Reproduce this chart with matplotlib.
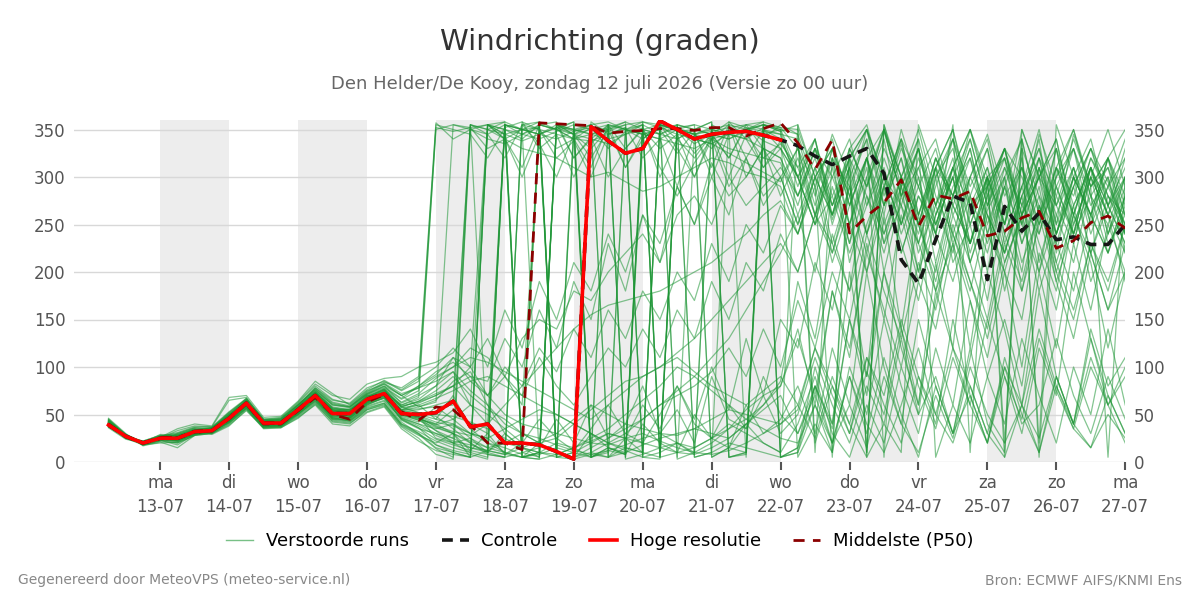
import numpy as np
import pandas as pd
import matplotlib
matplotlib.use("Agg")
import matplotlib.pyplot as plt

# 6-hourly steps, 12-07 06:00 .. 27-07 00:00
times = pd.date_range("2026-07-12 06:00", "2026-07-27 00:00", freq="6h")

# hoge resolutie (tot 22-07 00:00)
hires = [39, 27, 20, 25, 25, 32, 33, 46, 62, 41, 41, 55, 70, 51, 51, 66, 72, 51, 50, 52,
         64, 37, 40, 20, 20, 18, 11, 3, 353, 338, 325, 330, 359, 350, 340, 345, 347, 348, 344, 339]

control = [39, 27, 20, 25, 25, 32, 33, 46, 62, 41, 41, 55, 70, 51, 51, 66, 72, 51, 50, 52,
           64, 37, 40, 20, 20, 18, 11, 3, 353, 338, 325, 330, 359, 350, 340, 345, 347, 348, 344, 339,
           333, 322, 313, 322, 330, 304, 213, 188, 234, 280, 273, 192, 269, 243, 262, 234, 237, 229, 229, 250]

median = [40, 27, 20, 26, 26, 31, 33, 47, 61, 40, 40, 54, 68, 50, 45, 63, 71, 53, 44, 58,
          55, 39, 20, 20, 13, 357, 356, 355, 354, 346, 348, 349, 351, 351, 349, 352, 352, 343, 351, 357,
          336, 308, 339, 241, 259, 273, 297, 248, 281, 277, 285, 238, 243, 257, 264, 225, 233, 252, 259, 246]

# verstoorde runs (ensemble members)
run_01 = [41, 28, 19, 24, 27, 31, 35, 48, 60, 40, 42, 57, 72, 55, 48, 62, 75, 55, 60, 45,
          70, 35, 20, 15, 8, 355, 350, 340, 352, 330, 348, 355, 5, 350, 335, 345, 320, 352, 338, 330,
          300, 330, 270, 310, 240, 290, 220, 280, 250, 300, 210, 265, 300, 230, 280, 190, 250, 300, 230, 260]
run_02 = [38, 26, 21, 27, 22, 34, 31, 44, 64, 39, 38, 52, 68, 49, 53, 70, 70, 48, 42, 58,
          45, 30, 25, 10, 5, 8, 15, 10, 20, 30, 25, 60, 35, 80, 45, 100, 55, 130, 70, 150,
          120, 210, 160, 250, 200, 290, 230, 170, 260, 300, 220, 280, 180, 260, 300, 210, 270, 190, 240, 280]
run_03 = [44, 29, 18, 22, 30, 36, 34, 50, 58, 43, 45, 60, 75, 60, 57, 72, 80, 62, 70, 80,
          110, 100, 70, 90, 60, 350, 320, 338, 300, 345, 352, 320, 340, 290, 345, 310, 355, 300, 330, 280,
          320, 260, 300, 340, 270, 330, 290, 240, 310, 280, 330, 250, 300, 340, 260, 310, 280, 330, 295, 250]
run_04 = [40, 25, 20, 26, 24, 30, 32, 42, 63, 37, 40, 50, 66, 46, 45, 60, 68, 44, 35, 30,
          25, 15, 10, 355, 350, 352, 5, 10, 358, 345, 352, 8, 15, 20, 10, 350, 345, 340, 352, 5,
          15, 80, 40, 150, 90, 200, 140, 260, 180, 230, 120, 240, 200, 100, 220, 160, 260, 210, 120, 200]
run_05 = [37, 27, 22, 28, 26, 33, 36, 52, 66, 44, 43, 58, 78, 65, 62, 78, 85, 75, 85, 355,
          350, 345, 320, 352, 358, 330, 345, 300, 335, 355, 310, 345, 350, 325, 348, 300, 345, 350, 310, 338,
          300, 340, 260, 320, 350, 280, 335, 250, 310, 350, 270, 290, 330, 250, 320, 280, 340, 290, 310, 260]
run_06 = [42, 26, 19, 23, 18, 29, 30, 40, 56, 36, 37, 48, 62, 42, 40, 55, 60, 38, 28, 20,
          30, 12, 8, 5, 10, 15, 45, 20, 60, 25, 40, 80, 30, 55, 20, 90, 45, 35, 70, 30,
          50, 110, 60, 20, 80, 40, 130, 50, 90, 30, 70, 20, 100, 40, 60, 130, 70, 30, 90, 45]
run_07 = [39, 28, 21, 25, 33, 38, 37, 65, 68, 45, 47, 63, 82, 70, 66, 82, 88, 90, 100, 105,
          115, 140, 100, 160, 120, 190, 150, 210, 180, 240, 200, 260, 230, 290, 250, 300, 260, 320, 280, 300,
          250, 310, 270, 330, 290, 350, 300, 260, 320, 280, 340, 270, 310, 250, 300, 330, 270, 310, 260, 300]
run_08 = [46, 30, 17, 21, 15, 28, 33, 45, 61, 40, 39, 54, 71, 52, 50, 64, 72, 50, 45, 40,
          55, 40, 30, 355, 350, 345, 352, 358, 10, 5, 350, 345, 340, 350, 355, 5, 15, 10, 355, 350,
          345, 290, 5, 320, 10, 350, 280, 330, 240, 355, 10, 300, 20, 340, 260, 300, 330, 250, 320, 350]
run_09 = [36, 24, 20, 29, 28, 35, 29, 38, 55, 35, 36, 47, 60, 40, 38, 52, 58, 35, 22, 12,
          8, 5, 12, 20, 15, 10, 5, 3, 8, 12, 18, 25, 30, 20, 15, 25, 35, 45, 60, 80,
          140, 60, 180, 110, 230, 150, 260, 190, 300, 210, 250, 170, 270, 200, 310, 230, 180, 260, 300, 220]
run_10 = [43, 27, 19, 24, 25, 31, 34, 47, 65, 42, 44, 59, 74, 58, 55, 70, 78, 66, 75, 350,
          355, 352, 330, 340, 310, 355, 358, 320, 342, 300, 330, 350, 310, 280, 315, 340, 290, 320, 270, 300,
          250, 300, 220, 280, 320, 240, 290, 200, 260, 310, 230, 280, 330, 250, 200, 290, 240, 310, 260, 220]
run_11 = [40, 26, 22, 26, 35, 40, 38, 68, 70, 47, 48, 64, 85, 72, 60, 75, 82, 70, 58, 65,
          85, 95, 60, 30, 15, 355, 350, 358, 5, 15, 8, 350, 345, 355, 5, 10, 20, 15, 10, 5,
          10, 60, 20, 90, 30, 110, 50, 5, 80, 30, 120, 40, 10, 350, 300, 340, 260, 320, 290, 340]
run_12 = [38, 27, 18, 20, 21, 30, 31, 43, 59, 38, 40, 53, 69, 50, 49, 63, 70, 52, 48, 25,
          20, 25, 10, 5, 358, 350, 330, 340, 310, 355, 330, 352, 300, 340, 320, 345, 300, 345, 320, 335,
          310, 260, 330, 280, 350, 300, 250, 320, 270, 340, 290, 330, 250, 350, 300, 270, 330, 280, 310, 240]
run_13 = [45, 29, 20, 25, 27, 32, 36, 49, 62, 41, 42, 56, 73, 56, 54, 67, 76, 58, 64, 75,
          90, 70, 55, 45, 30, 20, 10, 5, 15, 25, 35, 45, 60, 70, 80, 95, 120, 90, 140, 100,
          170, 120, 200, 150, 240, 180, 130, 210, 160, 250, 190, 140, 230, 180, 270, 200, 150, 230, 190, 250]
run_14 = [39, 25, 21, 27, 24, 33, 33, 41, 57, 39, 38, 51, 64, 45, 44, 58, 64, 42, 30, 15,
          10, 5, 350, 345, 5, 10, 355, 350, 5, 15, 10, 358, 355, 350, 345, 352, 5, 10, 355, 348,
          300, 250, 320, 210, 280, 240, 300, 220, 270, 320, 230, 290, 210, 260, 320, 240, 300, 260, 220, 280]
run_15 = [41, 28, 19, 24, 26, 34, 35, 50, 67, 43, 45, 60, 76, 61, 58, 74, 84, 78, 90, 357,
          340, 350, 355, 345, 338, 345, 352, 350, 355, 358, 350, 345, 340, 335, 330, 340, 345, 340, 330, 320,
          280, 330, 250, 310, 350, 270, 330, 290, 240, 310, 350, 280, 330, 260, 300, 340, 250, 300, 350, 290]
run_16 = [37, 26, 20, 23, 23, 29, 32, 44, 60, 37, 39, 52, 67, 48, 47, 61, 69, 47, 40, 35,
          40, 25, 15, 20, 30, 25, 18, 12, 8, 5, 10, 18, 25, 30, 35, 30, 25, 40, 55, 70,
          30, 80, 20, 60, 15, 90, 40, 10, 70, 25, 100, 50, 20, 60, 10, 80, 35, 15, 50, 25]
run_17 = [44, 27, 21, 26, 29, 35, 34, 46, 64, 42, 42, 57, 71, 54, 52, 66, 73, 55, 62, 70,
          80, 60, 40, 355, 350, 345, 5, 355, 350, 348, 355, 5, 10, 355, 350, 345, 340, 348, 355, 350,
          5, 40, 10, 330, 355, 290, 340, 260, 320, 280, 350, 300, 5, 330, 20, 355, 300, 260, 320, 280]
run_18 = [40, 28, 19, 25, 24, 31, 36, 51, 63, 40, 41, 54, 70, 53, 56, 71, 79, 67, 80, 95,
          105, 90, 85, 130, 100, 160, 120, 190, 150, 230, 180, 260, 210, 290, 250, 315, 280, 300, 330, 320,
          270, 330, 280, 320, 240, 300, 270, 330, 260, 310, 350, 290, 320, 260, 300, 240, 290, 330, 270, 310]
run_19 = [38, 26, 20, 24, 22, 30, 31, 42, 58, 38, 37, 50, 65, 47, 43, 57, 62, 40, 32, 22,
          15, 10, 5, 355, 5, 10, 20, 15, 25, 35, 50, 65, 80, 100, 90, 75, 60, 45, 35, 25,
          20, 60, 10, 100, 50, 150, 80, 30, 120, 60, 170, 90, 40, 130, 70, 20, 100, 50, 140, 60]
run_20 = [42, 27, 18, 22, 20, 28, 30, 39, 54, 36, 36, 46, 61, 43, 41, 53, 59, 37, 25, 8,
          3, 350, 340, 335, 345, 352, 5, 350, 345, 350, 358, 5, 3, 352, 345, 340, 330, 325, 320, 315,
          260, 310, 230, 290, 200, 270, 320, 250, 200, 280, 230, 300, 250, 320, 210, 280, 240, 310, 270, 230]
run_21 = [43, 29, 21, 27, 31, 37, 37, 53, 67, 45, 44, 60, 78, 63, 59, 73, 83, 72, 78, 85,
          95, 75, 60, 40, 30, 20, 25, 40, 55, 70, 85, 90, 100, 110, 95, 80, 70, 60, 75, 90,
          60, 120, 80, 40, 110, 70, 150, 90, 50, 120, 80, 30, 100, 60, 140, 80, 40, 110, 60, 90]
run_22 = [39, 26, 20, 25, 26, 33, 33, 47, 61, 41, 40, 55, 69, 52, 50, 65, 71, 53, 55, 60,
          65, 355, 350, 340, 330, 325, 320, 310, 300, 305, 295, 285, 290, 300, 310, 320, 315, 305, 300, 290,
          240, 290, 210, 270, 320, 230, 300, 250, 190, 270, 320, 240, 290, 210, 260, 330, 240, 280, 220, 270]
run_23 = [40, 27, 22, 28, 28, 32, 35, 49, 65, 43, 43, 58, 74, 57, 53, 69, 76, 58, 52, 48,
          35, 20, 8, 5, 355, 358, 8, 15, 5, 355, 350, 358, 10, 20, 8, 355, 345, 350, 358, 5,
          15, 100, 40, 200, 90, 260, 140, 60, 210, 120, 280, 200, 300, 180, 250, 330, 230, 300, 260, 190]
run_24 = [37, 25, 19, 24, 23, 31, 32, 45, 59, 39, 38, 53, 67, 49, 46, 62, 67, 46, 38, 28,
          20, 15, 12, 8, 5, 3, 8, 15, 22, 30, 25, 20, 15, 10, 8, 15, 25, 40, 60, 85,
          190, 130, 240, 180, 300, 230, 270, 200, 310, 240, 180, 260, 220, 290, 230, 180, 270, 310, 240, 290]
run_25 = [45, 28, 20, 26, 25, 34, 34, 48, 62, 42, 41, 56, 72, 55, 51, 66, 74, 60, 68, 352,
          348, 352, 355, 358, 350, 345, 340, 348, 352, 350, 355, 358, 352, 345, 340, 335, 325, 315, 305, 295,
          330, 260, 310, 230, 290, 340, 250, 300, 210, 280, 330, 240, 310, 270, 340, 220, 300, 260, 320, 240]
run_26 = [41, 27, 21, 25, 27, 30, 33, 44, 60, 40, 40, 54, 70, 50, 48, 63, 70, 50, 44, 36,
          30, 22, 15, 10, 355, 350, 345, 340, 338, 345, 350, 355, 5, 10, 15, 25, 40, 30, 20, 10,
          355, 300, 330, 250, 310, 200, 280, 230, 180, 260, 210, 150, 240, 190, 270, 210, 160, 230, 180, 250]
run_27 = [38, 28, 18, 23, 24, 32, 31, 46, 63, 42, 42, 57, 73, 56, 55, 68, 77, 63, 72, 88,
          100, 110, 105, 95, 85, 75, 65, 55, 45, 60, 75, 90, 100, 115, 130, 150, 170, 190, 210, 230,
          200, 260, 220, 290, 240, 320, 270, 230, 300, 340, 270, 310, 250, 330, 280, 240, 310, 260, 220, 280]
run_28 = [42, 26, 20, 25, 22, 29, 32, 43, 57, 37, 39, 51, 66, 46, 44, 59, 65, 45, 36, 18,
          10, 5, 355, 350, 345, 355, 5, 10, 5, 355, 350, 345, 350, 355, 5, 10, 358, 352, 348, 345,
          340, 280, 345, 300, 5, 40, 10, 355, 300, 330, 250, 300, 220, 280, 320, 250, 345, 290, 5, 300]
run_29 = [39, 27, 21, 26, 28, 33, 35, 48, 64, 41, 43, 56, 71, 54, 53, 67, 75, 57, 60, 67,
          75, 85, 90, 80, 70, 60, 50, 40, 30, 20, 15, 10, 5, 355, 350, 345, 340, 350, 355, 5,
          10, 80, 35, 150, 70, 200, 120, 60, 170, 240, 190, 130, 210, 260, 180, 240, 300, 220, 160, 230]
run_30 = [40, 26, 19, 24, 26, 31, 33, 46, 61, 40, 40, 55, 70, 52, 50, 64, 72, 52, 50, 45,
          40, 30, 25, 35, 45, 55, 50, 40, 30, 20, 12, 5, 355, 350, 345, 350, 355, 350, 345, 350,
          310, 340, 270, 320, 350, 300, 250, 310, 340, 270, 230, 300, 320, 260, 345, 290, 240, 310, 270, 330]
run_31 = [40, 27, 20, 25, 26, 32, 33, 45, 61, 40, 41, 55, 70, 51, 50, 65, 71, 52, 47, 33,
          25, 355, 350, 358, 10, 5, 352, 345, 350, 355, 3, 8, 355, 348, 350, 358, 5, 8, 350, 340,
          300, 250, 280, 220, 270, 310, 240, 290, 330, 260, 300, 345, 280, 310, 250, 290, 330, 270, 300, 240]
run_32 = [43, 28, 20, 24, 29, 34, 36, 50, 63, 44, 46, 61, 76, 60, 58, 71, 80, 70, 80, 92,
          110, 85, 70, 50, 40, 35, 30, 25, 20, 18, 25, 30, 22, 15, 10, 8, 12, 20, 30, 40,
          55, 120, 70, 30, 95, 50, 140, 80, 35, 110, 60, 20, 90, 45, 130, 75, 35, 100, 60, 20]
run_33 = [38, 26, 21, 26, 24, 31, 32, 44, 60, 39, 40, 54, 68, 50, 48, 64, 70, 50, 46, 38,
          32, 28, 40, 60, 80, 100, 120, 140, 155, 165, 170, 175, 180, 190, 200, 210, 225, 240, 260, 275,
          240, 300, 260, 330, 290, 350, 300, 250, 320, 270, 230, 290, 330, 270, 240, 310, 260, 220, 280, 250]
run_34 = [41, 27, 19, 25, 25, 33, 34, 47, 62, 41, 42, 56, 71, 53, 52, 66, 73, 54, 58, 63,
          355, 350, 345, 355, 5, 10, 355, 345, 340, 335, 345, 355, 5, 350, 340, 335, 345, 355, 358, 352,
          330, 290, 340, 270, 320, 250, 300, 350, 280, 240, 300, 260, 220, 280, 330, 250, 300, 340, 270, 230]
run_35 = [39, 26, 20, 24, 23, 30, 31, 43, 59, 38, 39, 52, 67, 48, 46, 60, 68, 46, 40, 30,
          22, 18, 12, 8, 15, 22, 30, 45, 60, 50, 40, 35, 30, 28, 35, 45, 55, 50, 45, 40,
          60, 25, 90, 40, 5, 355, 300, 340, 5, 60, 20, 90, 150, 80, 200, 120, 230, 160, 250, 200]
run_36 = [42, 28, 21, 26, 27, 33, 35, 49, 64, 42, 43, 57, 72, 55, 54, 68, 74, 58, 64, 72,
          80, 100, 355, 345, 350, 358, 350, 340, 345, 352, 358, 350, 345, 352, 355, 350, 345, 350, 355, 352,
          350, 300, 330, 270, 320, 350, 280, 310, 250, 300, 340, 270, 330, 300, 250, 310, 350, 290, 320, 270]
run_37 = [40, 27, 20, 25, 25, 32, 34, 47, 61, 41, 41, 56, 70, 52, 51, 65, 72, 53, 49, 42,
          38, 30, 20, 10, 5, 3, 355, 350, 345, 340, 345, 350, 355, 3, 10, 20, 35, 55, 70, 80,
          130, 70, 180, 120, 220, 160, 100, 190, 140, 230, 170, 110, 200, 150, 260, 190, 130, 220, 160, 200]
run_38 = [39, 28, 19, 24, 24, 31, 33, 45, 60, 40, 40, 54, 69, 51, 49, 63, 71, 51, 46, 39,
          45, 60, 50, 35, 20, 355, 350, 345, 355, 5, 15, 10, 355, 350, 345, 348, 352, 355, 350, 345,
          290, 340, 255, 310, 10, 355, 290, 330, 250, 300, 210, 270, 320, 230, 290, 200, 260, 310, 240, 300]
run_39 = [41, 26, 20, 25, 26, 32, 33, 46, 62, 41, 42, 55, 71, 53, 51, 66, 73, 54, 52, 50,
          48, 42, 35, 25, 15, 10, 8, 5, 10, 20, 30, 45, 60, 75, 90, 110, 130, 160, 190, 220,
          260, 200, 290, 230, 320, 260, 350, 290, 240, 310, 270, 220, 290, 240, 310, 260, 210, 290, 320, 260]
run_40 = [40, 27, 21, 26, 25, 31, 34, 46, 61, 40, 41, 55, 70, 52, 50, 64, 71, 51, 48, 40,
          30, 20, 10, 355, 345, 340, 348, 355, 5, 12, 8, 355, 345, 340, 350, 358, 5, 10, 355, 348,
          355, 20, 80, 30, 110, 60, 20, 90, 40, 150, 70, 20, 110, 50, 10, 90, 40, 130, 70, 30]
run_41 = [41, 27, 20, 25, 26, 33, 34, 47, 63, 42, 43, 58, 74, 57, 55, 69, 77, 60, 66, 80,
          95, 60, 355, 340, 300, 345, 355, 320, 340, 355, 5, 350, 330, 345, 300, 340, 355, 320, 350, 330,
          300, 250, 330, 280, 220, 290, 340, 260, 310, 230, 280, 330, 240, 290, 350, 270, 230, 300, 260, 320]
run_42 = [39, 26, 19, 24, 21, 29, 31, 42, 57, 37, 38, 50, 64, 45, 43, 56, 62, 40, 30, 18,
          12, 8, 3, 355, 5, 20, 10, 5, 30, 15, 8, 40, 20, 10, 50, 25, 15, 60, 30, 45,
          80, 30, 120, 60, 200, 100, 40, 150, 80, 30, 110, 200, 140, 60, 180, 90, 40, 140, 80, 110]
run_43 = [40, 28, 21, 26, 28, 34, 35, 50, 65, 44, 45, 60, 77, 62, 58, 72, 82, 70, 78, 90,
          100, 120, 110, 90, 130, 150, 140, 180, 170, 200, 220, 240, 210, 260, 280, 250, 300, 270, 290, 310,
          280, 320, 260, 300, 340, 270, 320, 230, 290, 340, 260, 300, 250, 310, 270, 230, 290, 330, 280, 260]
run_44 = [42, 27, 20, 25, 24, 31, 33, 44, 59, 39, 39, 53, 68, 50, 47, 62, 69, 49, 44, 33,
          20, 10, 355, 350, 340, 355, 5, 345, 330, 350, 5, 340, 355, 350, 325, 345, 358, 340, 310, 330,
          280, 330, 300, 250, 320, 270, 340, 300, 230, 290, 320, 260, 200, 270, 310, 240, 290, 220, 270, 300]
run_45 = [38, 25, 18, 23, 20, 28, 30, 41, 56, 36, 37, 49, 63, 44, 42, 55, 61, 39, 29, 14,
          5, 355, 10, 30, 15, 5, 355, 348, 355, 5, 25, 10, 355, 340, 350, 5, 15, 40, 20, 10,
          40, 90, 30, 5, 60, 20, 100, 50, 180, 120, 60, 150, 90, 30, 120, 70, 200, 130, 60, 100]
run_46 = [44, 29, 21, 27, 30, 36, 36, 52, 66, 45, 46, 62, 80, 66, 61, 76, 86, 76, 88, 100,
          120, 100, 130, 90, 70, 110, 80, 60, 90, 120, 100, 140, 110, 160, 130, 190, 150, 210, 180, 240,
          200, 260, 230, 180, 250, 300, 220, 280, 240, 190, 260, 310, 230, 280, 200, 260, 310, 240, 290, 250]
run_47 = [40, 27, 20, 25, 25, 32, 33, 46, 62, 41, 41, 56, 71, 53, 51, 66, 73, 55, 56, 58,
          60, 355, 345, 320, 355, 335, 300, 345, 320, 350, 310, 340, 355, 330, 300, 345, 320, 355, 330, 300,
          330, 270, 320, 250, 300, 350, 280, 330, 270, 220, 300, 340, 260, 310, 240, 300, 350, 280, 250, 300]
run_48 = [41, 26, 21, 26, 23, 30, 32, 43, 60, 38, 38, 52, 66, 47, 46, 61, 67, 45, 36, 24,
          18, 12, 30, 8, 20, 45, 25, 12, 35, 60, 30, 20, 50, 80, 40, 25, 60, 35, 90, 50,
          30, 70, 20, 90, 40, 10, 60, 120, 50, 20, 80, 30, 5, 60, 25, 90, 40, 15, 70, 30]
run_49 = [43, 28, 20, 24, 27, 33, 35, 48, 63, 43, 42, 57, 73, 55, 53, 68, 76, 59, 63, 70,
          80, 90, 70, 100, 80, 120, 95, 140, 110, 160, 130, 180, 150, 200, 170, 230, 190, 250, 220, 270,
          240, 300, 260, 320, 280, 220, 290, 340, 270, 310, 250, 300, 240, 290, 330, 270, 310, 250, 290, 320]
run_50 = [39, 27, 19, 24, 24, 31, 33, 45, 61, 40, 41, 54, 69, 51, 49, 64, 70, 51, 47, 37,
          30, 5, 355, 340, 350, 5, 355, 345, 5, 10, 350, 340, 355, 5, 345, 330, 350, 5, 340, 355,
          345, 10, 320, 290, 340, 5, 300, 250, 310, 350, 280, 230, 290, 340, 5, 310, 260, 320, 280, 240]

runs = [run_01, run_02, run_03, run_04, run_05, run_06, run_07, run_08, run_09, run_10,
        run_11, run_12, run_13, run_14, run_15, run_16, run_17, run_18, run_19, run_20,
        run_21, run_22, run_23, run_24, run_25, run_26, run_27, run_28, run_29, run_30,
        run_31, run_32, run_33, run_34, run_35, run_36, run_37, run_38, run_39, run_40,
        run_41, run_42, run_43, run_44, run_45, run_46, run_47, run_48, run_49, run_50]

day_names = ["ma", "di", "wo", "do", "vr", "za", "zo"]
tick_days = pd.date_range("2026-07-13", "2026-07-27", freq="D")
tick_labels = [day_names[d.dayofweek] + "\n" + d.strftime("%d-%m") for d in tick_days]

fig = plt.figure(figsize=(12, 6), dpi=100)
ax = fig.add_axes([0.0617, 0.23, 0.876, 0.57])

# om en om grijze dagen
for start in pd.date_range("2026-07-13", "2026-07-25", freq="2D"):
    ax.axvspan(start, start + pd.Timedelta(days=1), color="#ededed", zorder=0, lw=0)

for r in runs:
    ax.plot(times, r, color="#1e9636", alpha=0.55, lw=0.9, zorder=2)

ctrl_line, = ax.plot(times, control, color="#161616", lw=2.6, ls=(0, (3, 2)), zorder=4)
med_line, = ax.plot(times, median, color="#8b0000", lw=2.0, ls=(0, (4, 3)), zorder=5)
hr_line, = ax.plot(times[:len(hires)], hires, color="#ff0000", lw=2.6, zorder=6)

ax.set_xlim(pd.Timestamp("2026-07-11 18:00"), pd.Timestamp("2026-07-27 00:00"))
ax.set_ylim(0, 360)
ax.set_yticks(range(0, 351, 50))
ax.set_xticks(tick_days)
ax.set_xticklabels(tick_labels)
ax.grid(axis="y", color="#d8d8d8", lw=1)
ax.set_axisbelow(True)
for s in ax.spines.values():
    s.set_visible(False)
ax.tick_params(axis="x", colors="#555555", labelsize=12, length=6, width=1.5, pad=3)
ax.tick_params(axis="y", colors="#555555", labelsize=12, length=0, pad=6,
               labelright=True, right=False)
for lbl in ax.get_xticklabels():
    lbl.set_linespacing(1.4)

fig.text(0.5, 0.930, "Windrichting (graden)", ha="center", va="center", fontsize=21, color="#333333")
fig.text(0.5, 0.860, "Den Helder/De Kooy, zondag 12 juli 2026 (Versie zo 00 uur)",
         ha="center", va="center", fontsize=13, color="#666666")

ens_handle = plt.Line2D([], [], color="#1e9636", alpha=0.6, lw=1)
fig.legend([ens_handle, ctrl_line, hr_line, med_line],
           ["Verstoorde runs", "Controle", "Hoge resolutie", "Middelste (P50)"],
           loc="center", bbox_to_anchor=(0.5, 0.098), ncol=4, frameon=False, fontsize=13,
           handlelength=1.5, handletextpad=0.7, columnspacing=1.8)

fig.text(0.015, 0.033, "Gegenereerd door MeteoVPS (meteo-service.nl)", ha="left", va="center",
         fontsize=10, color="#888888")
fig.text(0.985, 0.033, "Bron: ECMWF AIFS/KNMI Ens", ha="right", va="center",
         fontsize=10, color="#888888")

fig.savefig("out.png", dpi=100)
